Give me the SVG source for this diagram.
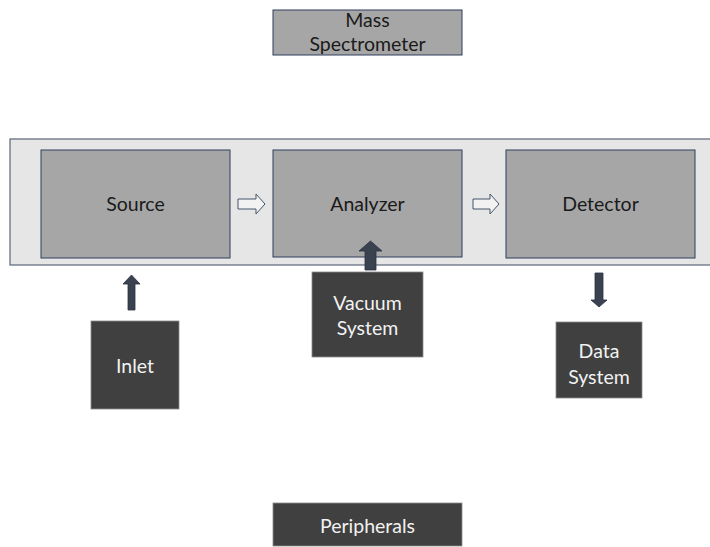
<svg xmlns="http://www.w3.org/2000/svg" width="710" height="547" viewBox="0 0 710 547">
<style>
.lt{fill:#a6a6a6;stroke:#2f3d5c;stroke-width:1}
.dk{fill:#404040;stroke:#8c8c8c;stroke-width:0.8}
.band{fill:#e7e6e6;stroke:#5a6478;stroke-width:1.2}
text{font-family:Lato,"Open Sans",sans-serif;font-size:19.5px;text-anchor:middle}
.tl{fill:#1a1a1a}
.td{fill:#f2f2f2}
.hollow{fill:#f2f2f2;stroke:#44546a;stroke-width:1}
.solid{fill:#3a4250;stroke:#2a3343;stroke-width:0.8}
</style>
<g id="band"><rect class="band" x="10" y="139" width="702" height="126"/></g>
<g id="mass-spectrometer"><rect class="lt" x="273" y="10" width="189" height="45"/><text class="tl" x="367.5" y="27">Mass</text><text class="tl" x="367.5" y="51">Spectrometer</text></g>
<g id="source"><rect class="lt" x="41" y="150" width="189" height="108"/><text class="tl" x="135.5" y="211">Source</text></g>
<g id="analyzer"><rect class="lt" x="273" y="150" width="189" height="107"/><text class="tl" x="367.5" y="211">Analyzer</text></g>
<g id="detector"><rect class="lt" x="506" y="150" width="189" height="108"/><text class="tl" x="600.5" y="211">Detector</text></g>
<g id="vacuum-system"><rect class="dk" x="312" y="272" width="111" height="85"/><text class="td" x="367.5" y="310">Vacuum</text><text class="td" x="367.5" y="335">System</text></g>
<g id="inlet"><rect class="dk" x="91" y="321" width="88" height="88"/><text class="td" x="135" y="373">Inlet</text></g>
<g id="data-system"><rect class="dk" x="556" y="322" width="86" height="76"/><text class="td" x="599" y="358">Data</text><text class="td" x="599" y="384">System</text></g>
<g id="peripherals"><rect class="dk" x="273" y="503" width="189" height="43"/><text class="td" x="367.5" y="533">Peripherals</text></g>
<g id="connectors">
<path class="hollow" d="M238,199 L256,199 L256,194 L265,204 L256,214 L256,209 L238,209 Z"/>
<path class="hollow" d="M473,199 L490,199 L490,194 L499,204 L490,214 L490,209 L473,209 Z"/>
<path class="solid" d="M365,270 L365,251 L359,251 L370.5,241 L382,251 L376,251 L376,270 Z"/>
<path class="solid" d="M128,310 L128,284 L123,284 L131.5,275 L140,284 L135,284 L135,310 Z"/>
<path class="solid" d="M595,273 L603,273 L603,300 L607,300 L599,307 L591,300 L595,300 Z"/>
</g>
</svg>
